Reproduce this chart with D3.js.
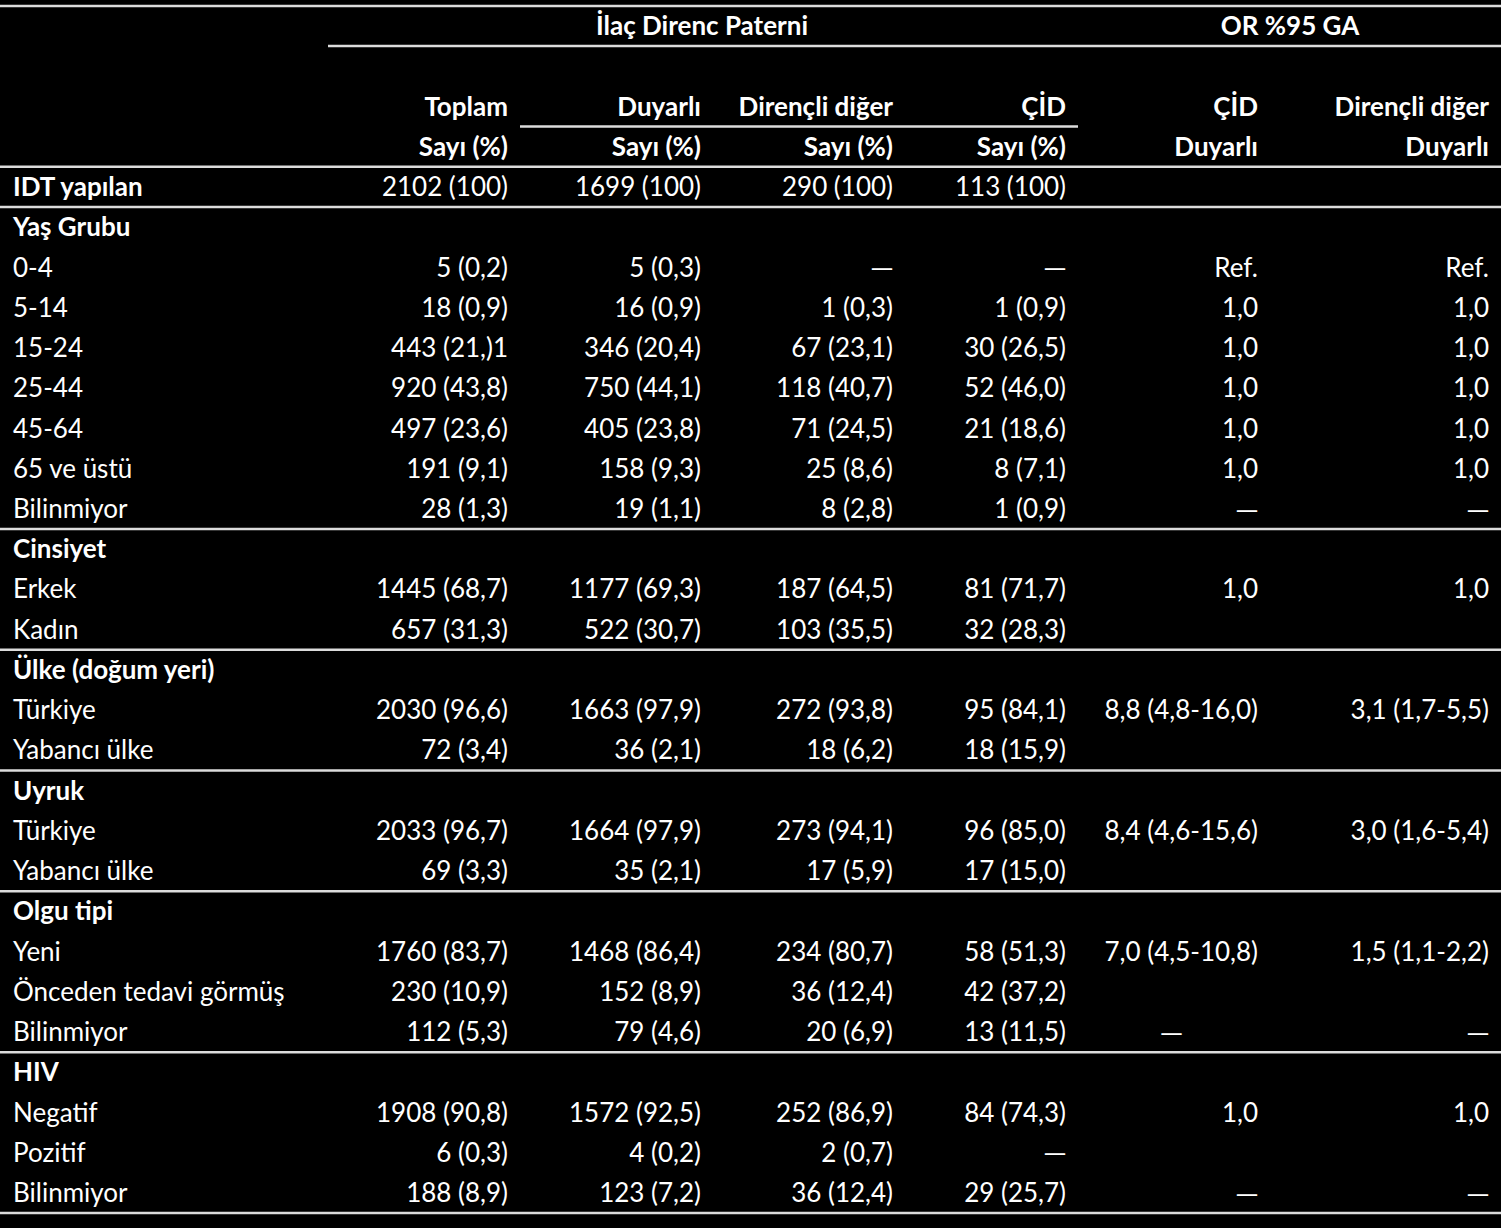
<!DOCTYPE html>
<html>
<head>
<meta charset="utf-8">
<script src="https://cdn.jsdelivr.net/npm/d3@7"></script>
<style>
  html, body { margin: 0; padding: 0; background: #000; }
  svg { display: block; }
  text { font-family: Lato, "Open Sans", sans-serif; font-size: 26px; fill: #fff; white-space: pre; }
  .bold { font-weight: bold; }
  .dash { font-family: "Noto Sans", sans-serif; font-size: 22px; }
</style>
</head>
<body>
<svg width="1501" height="1228"></svg>
<script>
// ---- data ----
let rowLabels = ["IDT yapılan", "Yaş Grubu", "0-4", "5-14", "15-24", "25-44", "45-64", "65 ve üstü", "Bilinmiyor",
  "Cinsiyet", "Erkek", "Kadın", "Ülke (doğum yeri)", "Türkiye", "Yabancı ülke", "Uyruk", "Türkiye", "Yabancı ülke",
  "Olgu tipi", "Yeni", "Önceden tedavi görmüş", "Bilinmiyor", "HIV", "Negatif", "Pozitif", "Bilinmiyor"];

// rows that are bold (section headings)
let boldRows = [0, 1, 9, 12, 15, 18, 22];
// separator line before these rows (index)
let sepBefore = [1, 9, 12, 15, 18, 22, 26];

let toplam = ["2102 (100)", "", "5 (0,2)", "18 (0,9)", "443 (21,)1", "920 (43,8)", "497 (23,6)", "191 (9,1)", "28 (1,3)",
  "", "1445 (68,7)", "657 (31,3)", "", "2030 (96,6)", "72 (3,4)", "", "2033 (96,7)", "69 (3,3)",
  "", "1760 (83,7)", "230 (10,9)", "112 (5,3)", "", "1908 (90,8)", "6 (0,3)", "188 (8,9)"];
let duyarli = ["1699 (100)", "", "5 (0,3)", "16 (0,9)", "346 (20,4)", "750 (44,1)", "405 (23,8)", "158 (9,3)", "19 (1,1)",
  "", "1177 (69,3)", "522 (30,7)", "", "1663 (97,9)", "36 (2,1)", "", "1664 (97,9)", "35 (2,1)",
  "", "1468 (86,4)", "152 (8,9)", "79 (4,6)", "", "1572 (92,5)", "4 (0,2)", "123 (7,2)"];
let direncli = ["290 (100)", "", "—", "1 (0,3)", "67 (23,1)", "118 (40,7)", "71 (24,5)", "25 (8,6)", "8 (2,8)",
  "", "187 (64,5)", "103 (35,5)", "", "272 (93,8)", "18 (6,2)", "", "273 (94,1)", "17 (5,9)",
  "", "234 (80,7)", "36 (12,4)", "20 (6,9)", "", "252 (86,9)", "2 (0,7)", "36 (12,4)"];
let cid = ["113 (100)", "", "—", "1 (0,9)", "30 (26,5)", "52 (46,0)", "21 (18,6)", "8 (7,1)", "1 (0,9)",
  "", "81 (71,7)", "32 (28,3)", "", "95 (84,1)", "18 (15,9)", "", "96 (85,0)", "17 (15,0)",
  "", "58 (51,3)", "42 (37,2)", "13 (11,5)", "", "84 (74,3)", "—", "29 (25,7)"];
let orCid = ["", "", "Ref.", "1,0", "1,0", "1,0", "1,0", "1,0", "—",
  "", "1,0", "", "", "8,8 (4,8-16,0)", "", "", "8,4 (4,6-15,6)", "",
  "", "7,0 (4,5-10,8)", "", "—\u2007\u2007\u2007\u2007\u2007\u2007", "", "1,0", "", "—"];
let orDir = ["", "", "Ref.", "1,0", "1,0", "1,0", "1,0", "1,0", "—",
  "", "1,0", "", "", "3,1 (1,7-5,5)", "", "", "3,0 (1,6-5,4)", "",
  "", "1,5 (1,1-2,2)", "", "—", "", "1,0", "", "—"];

let columns = ["toplam", "duyarli", "direncli", "cid", "orCid", "orDir"];
let colHead1 = ["Toplam", "Duyarlı", "Dirençli diğer", "ÇİD", "ÇİD", "Dirençli diğer"];
let colHead2 = ["Sayı (%)", "Sayı (%)", "Sayı (%)", "Sayı (%)", "Duyarlı", "Duyarlı"];
let groups = [{name: "İlaç Direnc Paterni", from: "toplam", to: "cid"}, {name: "OR %95 GA", from: "orCid", to: "orDir"}];

let colValues = {toplam, duyarli, direncli, cid, orCid, orDir};

// ---- layout ----
let svg = d3.select("svg");
svg.append("rect").attr("width", 1501).attr("height", 1228).attr("fill", "#000");

// row index -> y (header rows use negative indices)
let y = d3.scaleLinear().domain([-4, 25]).range([26, 1193]);
// column -> right edge x
let x = d3.scaleOrdinal().domain(columns).range([508, 701, 893, 1066, 1258, 1489]);

let lineColor = "#dcdcdc";
function hline(x1, x2, yy) {
  svg.append("line")
    .attr("x1", x1).attr("x2", x2)
    .attr("y1", yy).attr("y2", yy)
    .attr("stroke", lineColor)
    .attr("stroke-width", 2.5);
}

hline(0, 1501, y(-4.5));
hline(328, 1501, y(-3.5));
hline(520, 1078, y(-1.5));
hline(0, 1501, y(-0.5));
sepBefore.forEach(function(i) { hline(0, 1501, y(i - 0.5)); });

// group headers
svg.selectAll(".group")
  .data(groups)
  .enter().append("text")
  .attr("class", "group bold")
  .attr("x", function(d) { return d.name === "OR %95 GA" ? 1290 : 702; })
  .attr("y", y(-4))
  .attr("dy", "0.35em")
  .attr("text-anchor", "middle")
  .text(function(d) { return d.name; });

// column headers
svg.selectAll(".head1")
  .data(columns)
  .enter().append("text")
  .attr("class", "head1 bold")
  .attr("x", function(d) { return x(d); })
  .attr("y", y(-2))
  .attr("dy", "0.35em")
  .attr("text-anchor", "end")
  .text(function(d, i) { return colHead1[i]; });

svg.selectAll(".head2")
  .data(columns)
  .enter().append("text")
  .attr("class", "head2 bold")
  .attr("x", function(d) { return x(d); })
  .attr("y", y(-1))
  .attr("dy", "0.35em")
  .attr("text-anchor", "end")
  .text(function(d, i) { return colHead2[i]; });

// row labels
svg.selectAll(".label")
  .data(rowLabels)
  .enter().append("text")
  .attr("class", function(d, i) { return boldRows.includes(i) ? "label bold" : "label"; })
  .attr("x", 13)
  .attr("y", function(d, i) { return y(i); })
  .attr("dy", "0.35em")
  .text(function(d) { return d; });

// cells
columns.forEach(function(c) {
  svg.selectAll(".cell-" + c)
    .data(colValues[c])
    .enter().append("text")
    .attr("class", function(d) { return d.charAt(0) === "—" ? "cell-" + c + " dash" : "cell-" + c; })
    .attr("x", x(c))
    .attr("y", function(d, i) { return y(i); })
    .attr("dy", "0.35em")
    .attr("text-anchor", "end")
    .text(function(d) { return d; });
});
</script>
</body>
</html>
